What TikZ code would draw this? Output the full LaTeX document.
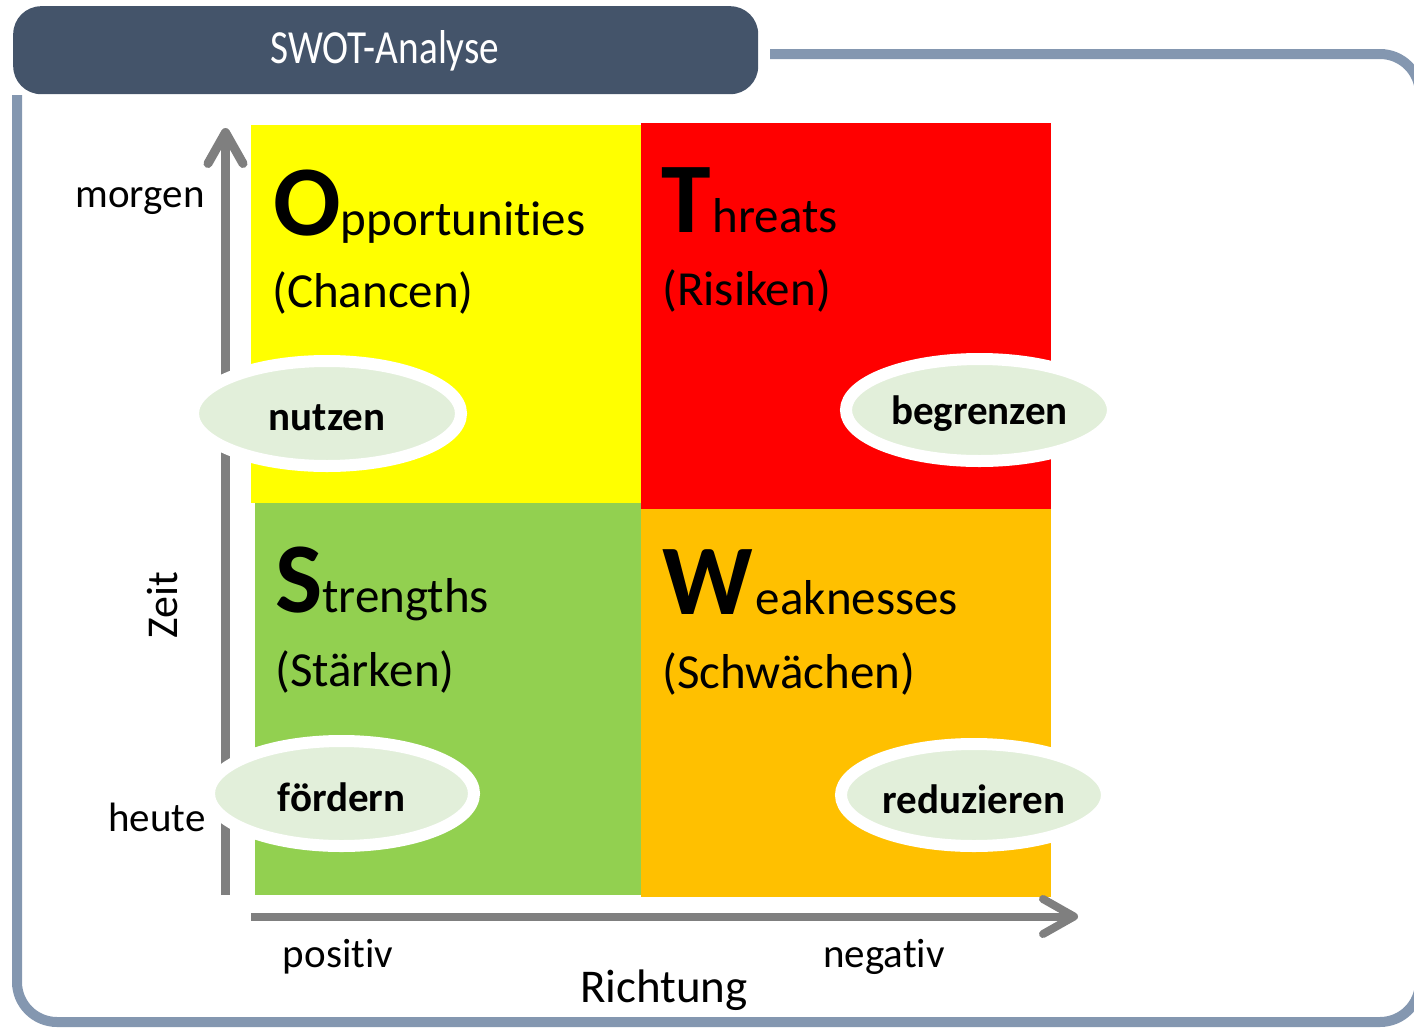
\documentclass[tikz,border=0pt]{standalone}
\usepackage{fontspec}
\setmainfont{Carlito}[Ligatures=NoCommon]
\usetikzlibrary{positioning}
\usetikzlibrary{arrows.meta}
\usetikzlibrary{shapes.geometric}
\definecolor{headblue}{HTML}{44546A}
\definecolor{frameblue}{HTML}{8497B0}
\definecolor{ovalgreen}{HTML}{E2EFDA}
\definecolor{swotyellow}{HTML}{FFFF00}
\definecolor{swotred}{HTML}{FF0000}
\definecolor{swotgreen}{HTML}{92D050}
\definecolor{swotorange}{HTML}{FFC000}
\definecolor{axisgray}{HTML}{7F7F7F}
\newcommand{\bigletter}[1]{{\fontsize{100}{100}\selectfont\bfseries #1}}
\newcommand{\quadtext}{\fontsize{49}{49}\selectfont}
\newcommand{\ovaltext}[1]{\raisebox{-4pt}[\height][\depth]{#1}}

\begin{document}
\begin{tikzpicture}[x=1pt, y=-1pt,
    Quad/.style={rectangle, inner sep=0pt, anchor=north west},
    Oval/.style={ellipse, draw=white, line width=12pt, fill=ovalgreen, inner sep=0pt,
                 font=\fontsize{41}{41}\selectfont\bfseries},
    Lbl/.style={inner sep=0pt, font=\fontsize{41}{41}\selectfont},
    Title/.style={inner sep=0pt, anchor=base west, align=left},
    Axis/.style={axisgray, line width=9pt, line cap=round,
                 -{Straight Barb[length=31pt, width=35pt, line cap=round, line join=round]}},
    ]
        \useasboundingbox (0,0) rectangle (1414,1028);

        % frame and header
        \draw[frameblue, line width=10pt, rounded corners=40pt]
            (770,54) -- (1420,54) -- (1420,1022) -- (17,1022) -- (17,95);
        \node[rectangle, rounded corners=28pt, fill=headblue, minimum width=745pt,
              minimum height=88pt, inner sep=0pt, anchor=north west] (head) at (13,6) {};
        \node[text=white, inner sep=0pt] (headtxt) at (385,51)
            {\scalebox{1.09}[1.32]{\fontsize{36}{36}\selectfont SWOT-Analyse}};

        % quadrants
        \node[Quad, fill=swotyellow, minimum width=390pt, minimum height=378pt] (O) at (251,125) {};
        \node[Quad, fill=swotred, minimum width=410pt, minimum height=386pt] (T) at (641,123) {};
        \node[Quad, fill=swotgreen, minimum width=386pt, minimum height=392pt] (S) at (255,503) {};
        \node[Quad, fill=swotorange, minimum width=410pt, minimum height=388pt] (W) at (641,509) {};

        \node[Title] (Otxt) at (273,235) {\bigletter{O}\quadtext pportunities};
        \node[Title] (Oger) at (272,307) {\quadtext (Chancen)};
        \node[Title] (Ttxt) at (661,232) {\bigletter{T}\quadtext\kern2pt hreats};
        \node[Title] (Tger) at (662,305) {\quadtext (Risiken)};
        \node[Title] (Stxt) at (275,612) {\bigletter{S}\quadtext trengths};
        \node[Title] (Sger) at (275,686) {\quadtext (Stärken)};
        \node[Title] (Wtxt) at (662,614) {\bigletter{W}\quadtext\kern3pt eaknesses};
        \node[Title] (Wger) at (662,688) {\quadtext (Schwächen)};

        % axes
        \coordinate (ybot) at (225.5,895);
        \coordinate (ytop) at (225.5,128);
        \coordinate (xleft) at (251,916.5);
        \coordinate (xright) at (1078,916.5);
        \draw[Axis, line cap=butt] (ybot) -- (ytop);
        \draw[Axis, line width=8pt, line cap=butt] (xleft) -- (xright);

        \node[Oval, minimum width=268pt, minimum height=105pt] (nutzen) at (327,413.5) {\ovaltext{nutzen}};
        \node[Oval, minimum width=265pt, minimum height=105pt] (foerdern) at (341.5,793.5) {\ovaltext{fördern}};
        \node[Oval, minimum width=267pt, minimum height=102pt] (begrenzen) at (979.5,410) {\ovaltext{begrenzen}};
        \node[Oval, minimum width=266pt, minimum height=102pt] (reduzieren) at (974,795) {\ovaltext{reduzieren}};

        % axis labels
        \node[Lbl] (morgen) at (140,201) {morgen};
        \node[Lbl] (heute) at (157,817) {heute};
        \node[Lbl, rotate=90, font=\fontsize{44}{44}\selectfont] (zeit) at (163,605) {Zeit};
        \node[Lbl] (positiv) at (338,957) {positiv};
        \node[Lbl] (negativ) at (884,957) {negativ};
        \node[Lbl, font=\fontsize{47}{47}\selectfont] (richtung) at (664,990) {Richtung};
    \end{tikzpicture}
\end{document}
